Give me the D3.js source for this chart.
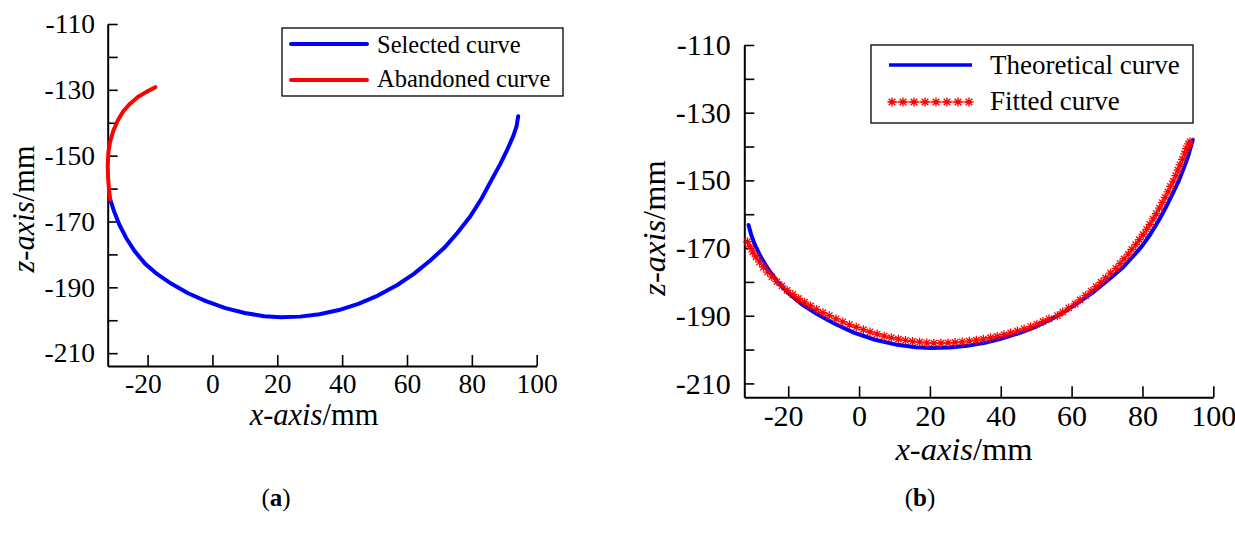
<!DOCTYPE html>
<html>
<head>
<meta charset="utf-8">
<script src="https://cdn.jsdelivr.net/npm/d3@7"></script>
<style>
  html, body { margin: 0; padding: 0; background: #fff; }
  svg text { font-family: "Liberation Serif", "Times New Roman", serif; fill: #000; }
</style>
</head>
<body>
<svg id="chart" width="1235" height="542"></svg>
<script>
// ---- data -------------------------------------------------------------
const xTickValues = [-20, 0, 20, 40, 60, 80, 100];
const zTickValues = [-110, -120, -130, -140, -150, -160, -170, -180, -190, -200, -210];
const zTickLabels = [-110, -130, -150, -170, -190, -210];

// (a) measured trajectory split into the kept part and the dropped part
const selectedCurve = [
  [-31.5, -163.4], [-30.3, -167], [-28.7, -171], [-26.6, -175], [-24, -179],
  [-20.8, -182.8], [-17, -186], [-12.5, -189], [-7.5, -191.8], [-2, -194.2],
  [4, -196.3], [10, -197.8], [16, -198.8], [21, -199.1], [27, -198.9],
  [33, -198.2], [39, -196.9], [45, -195], [51, -192.5], [57, -189.3],
  [62, -186], [67, -182], [71.5, -178], [75.5, -173.5], [79.5, -168.5],
  [83, -163], [86, -157.5], [88.8, -152.5], [91, -148], [92.8, -144],
  [93.8, -141], [94.3, -138]
];
const abandonedCurve = [
  [-31.5, -163.4], [-31.9, -160.4], [-32.2, -156.4], [-32.3, -153], [-32.1, -149],
  [-31.6, -146], [-30.6, -142.5], [-29.2, -139.3], [-27.5, -136.5], [-25.4, -134.2],
  [-23, -132.2], [-20.5, -130.7], [-17.6, -129.2]
];

// (b) theoretical trajectory and the fitted one
const theoreticalCurve = [
  [-31.2, -163.2], [-30.4, -166.3], [-29.3, -169.3], [-27.8, -172.5], [-25.8, -176],
  [-23.3, -179.6], [-20, -183.3], [-16.2, -186.6], [-12, -189.4], [-7, -192.3],
  [-1.5, -195], [4.5, -197.1], [10.8, -198.6], [16, -199.3], [20.5, -199.5],
  [25.5, -199.4], [30.5, -198.9], [35.5, -198], [40, -196.8], [45, -195.2],
  [50, -193.2], [54.5, -190.9], [58.5, -188.5], [62.5, -185.7], [66.5, -182.7],
  [70.5, -179.3], [74.3, -175.9], [77.3, -172.5], [79.8, -169.5], [82.2, -166],
  [84.5, -162], [86.6, -158], [88.5, -154], [90.3, -150], [91.8, -146],
  [93, -142.5], [94.2, -138]
];
const fittedCurve = [
  [-31.5, -168.1], [-30.8, -169.6], [-30, -171.1], [-29.1, -172.6], [-28.1, -174.1],
  [-27, -175.6], [-25.8, -177.1], [-24.6, -178.5], [-23.2, -179.9], [-21.8, -181.2],
  [-20.3, -182.5], [-18.7, -183.7], [-17.1, -184.9], [-15.4, -186], [-13.7, -187.1],
  [-12, -188.1], [-10.2, -189.1], [-8.4, -190], [-6.5, -190.9], [-4.6, -191.8],
  [-2.7, -192.6], [-0.8, -193.4], [1.2, -194.1], [3.1, -194.8], [5.1, -195.4],
  [7.1, -196], [9.1, -196.5], [11.1, -196.9], [13.1, -197.3], [15.1, -197.6],
  [17.1, -197.8], [19.1, -198], [21.1, -198.1], [23.1, -198.1], [25.1, -198],
  [27.1, -197.9], [29.1, -197.7], [31.1, -197.5], [33.1, -197.2], [35.1, -196.9],
  [37.1, -196.5], [39, -196.1], [40.9, -195.6], [42.8, -195.1], [44.7, -194.5],
  [46.6, -193.9], [48.4, -193.2], [50.2, -192.5], [51.9, -191.7], [53.6, -190.9],
  [56, -190], [57.5, -188.9], [59.2, -187.7], [61, -186.5], [62.4, -185.3],
  [64, -184], [65.5, -182.7], [66.9, -181.4], [68.3, -180.1], [69.6, -178.8],
  [71, -177.4], [72.5, -176], [73.7, -174.6], [74.8, -173.2], [76, -171.8],
  [77, -170.4], [78.1, -169], [79.1, -167.5], [80.2, -166], [81.2, -164.5],
  [82.1, -163], [83, -161.4], [83.9, -159.8], [84.8, -158.2], [85.6, -156.6],
  [86.4, -155], [87.2, -153.4], [87.9, -151.8], [88.7, -150.2], [89.4, -148.6],
  [90, -147], [90.6, -145.4], [91.3, -143.8], [91.9, -142.2], [92.4, -140.6],
  [93, -139.2], [93.4, -138.6]
];

const legendA = ["Selected curve", "Abandoned curve"];
const legendB = ["Theoretical curve", "Fitted curve"];
const panelTags = ["a", "b"];

// ---- drawing ----------------------------------------------------------
const svg = d3.select("#chart");
const BLUE = "#0000ff", RED = "#ff0000";

function starPath(r) {
  const d = r * 0.72;
  return `M${-r},0L${r},0M0,${-r}L0,${r}M${-d},${-d}L${d},${d}M${-d},${d}L${d},${-d}`;
}

function drawPanel(cfg) {
  const g = svg.append("g");
  const x = d3.scaleLinear().domain(cfg.xDomain).range([cfg.left, cfg.right]);
  const z = d3.scaleLinear().domain(cfg.zDomain).range([cfg.bottom, cfg.top]);

  const yAxis = d3.axisLeft(z)
    .tickValues(zTickValues)
    .tickFormat(d => zTickLabels.includes(d) ? String(d) : "")
    .tickSizeInner(-10).tickSizeOuter(0).tickPadding(cfg.yPad);
  const xAxis = d3.axisBottom(x)
    .tickValues(xTickValues)
    .tickFormat(d => String(d))
    .tickSizeInner(-11).tickSizeOuter(0).tickPadding(cfg.xPad);

  const ya = g.append("g").attr("transform", `translate(${cfg.left},0)`).call(yAxis);
  const xa = g.append("g").attr("transform", `translate(0,${cfg.bottom})`).call(xAxis);
  [ya, xa].forEach(a => {
    a.attr("font-family", null);
    a.select(".domain").attr("stroke", "#000").attr("stroke-width", 2);
    a.selectAll(".tick line").attr("stroke", "#000").attr("stroke-width", 1.6);
    a.selectAll("text").attr("font-size", cfg.tickFont).attr("fill", "#000");
  });
  xa.selectAll(".tick text").attr("dx", d => d < 0 ? "-0.17em" : 0);

  // axis titles
  const xt = g.append("text").attr("x", cfg.xTitle[0]).attr("y", cfg.xTitle[1])
    .attr("text-anchor", "middle").attr("font-size", cfg.titleFont);
  xt.append("tspan").attr("font-style", "italic").text("x-axis");
  xt.append("tspan").text("/mm");
  const zt = g.append("text")
    .attr("transform", `translate(${cfg.zTitle[0]},${cfg.zTitle[1]}) rotate(-90)`)
    .attr("text-anchor", "middle").attr("font-size", cfg.titleFont);
  zt.append("tspan").attr("font-style", "italic").text("z-axis");
  zt.append("tspan").text("/mm");

  // panel tag
  const tg = g.append("text").attr("x", cfg.tag[0]).attr("y", cfg.tag[1])
    .attr("text-anchor", "middle").attr("font-size", 25);
  tg.append("tspan").text("(");
  tg.append("tspan").attr("font-weight", "bold").text(cfg.tagText);
  tg.append("tspan").text(")");

  return { g, x, z };
}

const line = (x, z) => d3.line().x(d => x(d[0])).y(d => z(d[1]));

// panel (a)
{
  const { g, x, z } = drawPanel({
    xDomain: [-32.3, 100], zDomain: [-213.9, -110],
    left: 107.7, right: 536.7, top: 24, bottom: 366,
    yPad: 12.7, xPad: 7, tickFont: 27.5, titleFont: 30.5,
    xTitle: [314, 425], zTitle: [34, 209], tag: [276, 506], tagText: panelTags[0]
  });
  g.append("path").datum(selectedCurve).attr("d", line(x, z))
    .attr("fill", "none").attr("stroke", BLUE).attr("stroke-width", 4)
    .attr("stroke-linejoin", "round").attr("stroke-linecap", "round");
  g.append("path").datum(abandonedCurve).attr("d", line(x, z))
    .attr("fill", "none").attr("stroke", RED).attr("stroke-width", 4)
    .attr("stroke-linejoin", "round").attr("stroke-linecap", "round");

  const lg = g.append("g");
  lg.append("rect").attr("x", 282).attr("y", 28).attr("width", 281).attr("height", 68)
    .attr("fill", "#fff").attr("stroke", "#000").attr("stroke-width", 1.3);
  [[BLUE, 44, 52.7], [RED, 80, 87]].forEach(([c, ly, ty], i) => {
    lg.append("line").attr("x1", 291).attr("x2", 367).attr("y1", ly).attr("y2", ly)
      .attr("stroke", c).attr("stroke-width", 4).attr("stroke-linecap", "round");
    lg.append("text").attr("x", 377).attr("y", ty).attr("font-size", 24.5).text(legendA[i]);
  });
}

// panel (b)
{
  const { g, x, z } = drawPanel({
    xDomain: [-32.4, 100], zDomain: [-214.1, -110],
    left: 744.3, right: 1213.3, top: 45, bottom: 397.3,
    yPad: 13.6, xPad: 7, tickFont: 30, titleFont: 32.5,
    xTitle: [964, 460], zTitle: [665, 228], tag: [920, 506], tagText: panelTags[1]
  });
  g.append("path").datum(theoreticalCurve).attr("d", line(x, z))
    .attr("fill", "none").attr("stroke", BLUE).attr("stroke-width", 4)
    .attr("stroke-linejoin", "round").attr("stroke-linecap", "round");
  g.append("path").datum(fittedCurve).attr("d", line(x, z))
    .attr("fill", "none").attr("stroke", RED).attr("stroke-opacity", 0.45).attr("stroke-width", 2.5);
  g.append("g").selectAll("path").data(fittedCurve).join("path")
    .attr("transform", d => `translate(${x(d[0])},${z(d[1])})`)
    .attr("d", starPath(4.4)).attr("fill", "none").attr("stroke", RED).attr("stroke-width", 1.3);

  const lg = g.append("g");
  lg.append("rect").attr("x", 871).attr("y", 45).attr("width", 322).attr("height", 78)
    .attr("fill", "#fff").attr("stroke", "#000").attr("stroke-width", 1.3);
  lg.append("line").attr("x1", 889).attr("x2", 972).attr("y1", 65).attr("y2", 65)
    .attr("stroke", BLUE).attr("stroke-width", 3.5);
  lg.append("text").attr("x", 990).attr("y", 74.3).attr("font-size", 27).text(legendB[0]);
  lg.append("line").attr("x1", 889).attr("x2", 972).attr("y1", 102).attr("y2", 102)
    .attr("stroke", RED).attr("stroke-opacity", 0.45).attr("stroke-width", 2.5);
  const legendStars = d3.range(8);
  const sx = d3.scaleLinear().domain([0, 7]).range([892, 969]);
  lg.selectAll("path.star").data(legendStars).join("path").attr("class", "star")
    .attr("transform", d => `translate(${sx(d)},102)`)
    .attr("d", starPath(4.6)).attr("fill", "none").attr("stroke", RED).attr("stroke-width", 1.4);
  lg.append("text").attr("x", 990).attr("y", 110).attr("font-size", 27).text(legendB[1]);
}
</script>
</body>
</html>
